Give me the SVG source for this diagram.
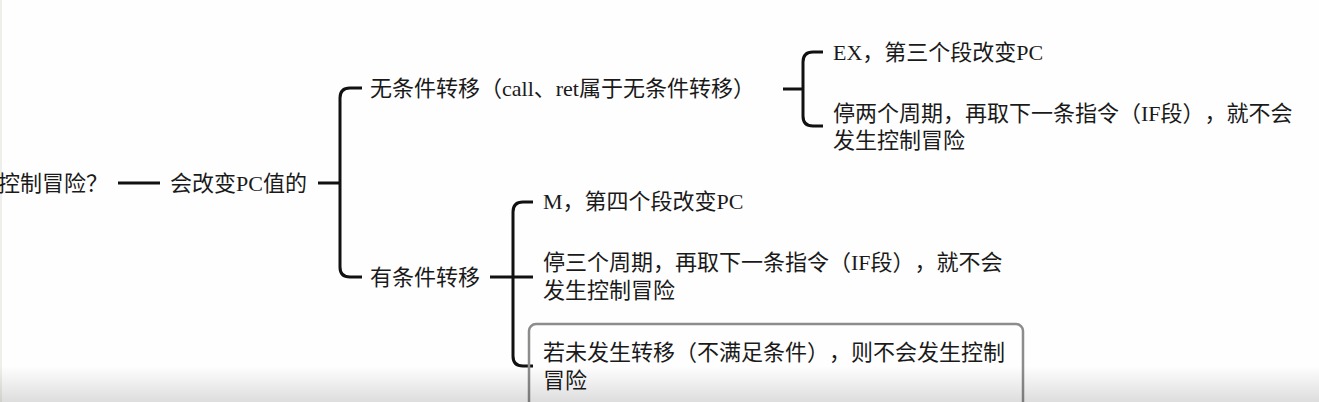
<svg xmlns="http://www.w3.org/2000/svg" width="1319" height="402" viewBox="0 0 1319 402">
  <defs>
    <style>
      .t { font-family: "Liberation Serif", "Noto Sans CJK SC", serif; font-size: 22px; fill: #1a1a1a; text-spacing-trim: space-all; }
      .c { fill: none; stroke: #111; stroke-width: 3; stroke-linecap: butt; stroke-linejoin: round; }
      .box { fill: none; stroke: #8c8c8c; stroke-width: 2.5; }
    </style>
    <linearGradient id="shade" x1="0" y1="0" x2="0" y2="1">
      <stop offset="0" stop-color="#000" stop-opacity="0"/>
      <stop offset="1" stop-color="#000" stop-opacity="0.13"/>
    </linearGradient>
  </defs>
  <rect x="0" y="0" width="1319" height="402" fill="#fefefe"/>
  <rect x="0" y="0" width="2" height="402" fill="#eeeeea"/>

  <g id="connectors">
    <line class="c" x1="118" y1="183" x2="160" y2="183"/>
    <line class="c" x1="318" y1="183" x2="340" y2="183"/>
    <path class="c" d="M362,88 H350 Q340,88 340,98 V267 Q340,277 350,277 H362"/>
    <line class="c" x1="783" y1="89" x2="803" y2="89"/>
    <path class="c" d="M823,52 H813 Q803,52 803,62 V116 Q803,126 813,126 H823"/>
    <line class="c" x1="490" y1="277" x2="533" y2="277"/>
    <path class="c" d="M533,202 H523 Q513,202 513,212 V356 Q513,366 523,366 H533"/>
  </g>

  <g id="node-root">
    <text class="t" x="-2" y="191">控制冒险？</text>
  </g>
  <g id="node-pc">
    <text class="t" x="170" y="191">会改变PC值的</text>
  </g>
  <g id="node-uncond">
    <text class="t" x="370" y="96">无条件转移（call、ret属于无条件转移）</text>
  </g>
  <g id="node-ex">
    <text class="t" x="833" y="60">EX，第三个段改变PC</text>
  </g>
  <g id="node-stall2">
    <text class="t" x="833" y="121">停两个周期，再取下一条指令（IF段），就不会</text>
    <text class="t" x="833" y="148">发生控制冒险</text>
  </g>
  <g id="node-cond">
    <text class="t" x="370" y="285">有条件转移</text>
  </g>
  <g id="node-m">
    <text class="t" x="543" y="209">M，第四个段改变PC</text>
  </g>
  <g id="node-stall3">
    <text class="t" x="543" y="270">停三个周期，再取下一条指令（IF段），就不会</text>
    <text class="t" x="543" y="298">发生控制冒险</text>
  </g>
  <g id="node-notaken">
    <rect class="box" x="529" y="324" width="494" height="100" rx="7"/>
    <text class="t" x="543" y="360">若未发生转移（不满足条件），则不会发生控制</text>
    <text class="t" x="543" y="388">冒险</text>
  </g>

  <rect x="0" y="366" width="1319" height="36" fill="url(#shade)"/>
</svg>
